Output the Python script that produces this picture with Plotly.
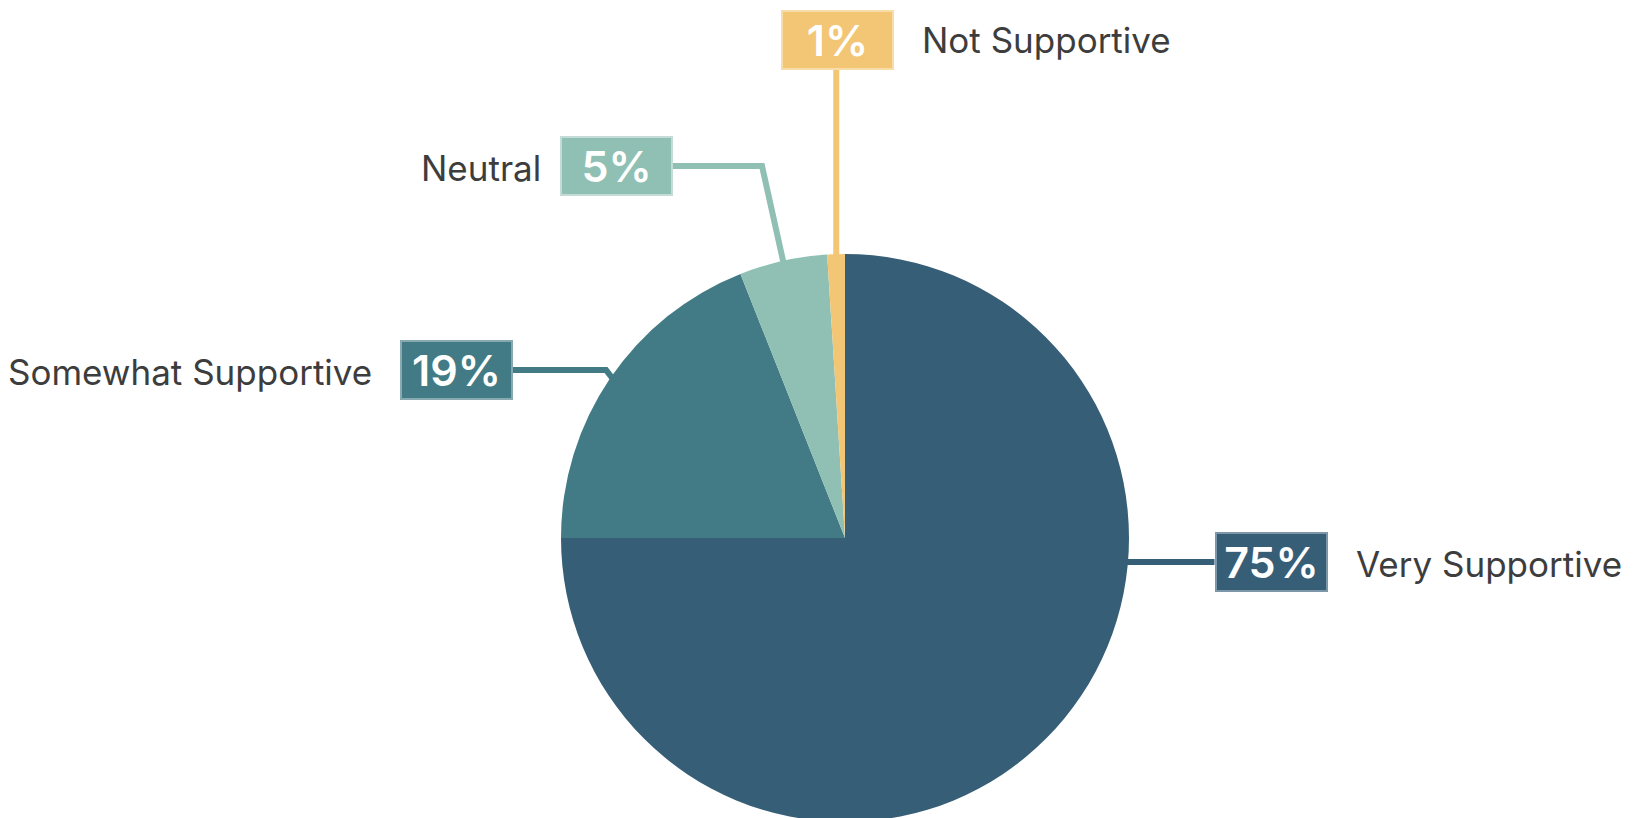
import math
import plotly.graph_objects as go

# ---- data ----
categories = ["Very Supportive", "Somewhat Supportive", "Neutral", "Not Supportive"]
values = [75, 19, 5, 1]
pct_labels = ["75%", "19%", "5%", "1%"]
colors = ["#375e77", "#427b85", "#8fc0b3", "#f2c674"]
border_colors = ["#7d97a8", "#86aab0", "#c3ddd6", "#f8dda9"]

# ---- layout constants (window pixels) ----
W, H = 1636, 818
OFF = 8  # page body margin
CX, CY, R = 845, 538, 284

def px(x):
    return (x - OFF) / W

def py(y):
    return 1 - (y - OFF) / H

# label box centres (px) and category text placement
box_centres = {
    "Very Supportive": (1271, 562),
    "Somewhat Supportive": (456, 370),
    "Neutral": (616, 166),
    "Not Supportive": (837, 40),
}
name_pos = {
    "Very Supportive": (1354, 564, "left"),
    "Somewhat Supportive": (374, 372, "right"),
    "Neutral": (543, 168, "right"),
    "Not Supportive": (920, 40, "left"),
}
BOX_W, BOX_H = 113, 60

fig = go.Figure(go.Pie(
    labels=categories,
    values=values,
    sort=False,
    direction="clockwise",
    rotation=0,
    marker=dict(colors=colors, line=dict(width=0)),
    textinfo="none",
    hoverinfo="label+percent",
    showlegend=False,
    domain=dict(x=[px(CX - R), px(CX + R)], y=[py(CY + R), py(CY - R)]),
))

# mid angles (clockwise from 12 o'clock) computed from the data
total = sum(values)
mid_angle = {}
cum = 0
for c, v in zip(categories, values):
    mid_angle[c] = (cum + v / 2) / total * 2 * math.pi
    cum += v

def edge_point(angle, r):
    return CX + r * math.sin(angle), CY - r * math.cos(angle)

shapes = []
annotations = []
for c, pl, col, bcol in zip(categories, pct_labels, colors, border_colors):
    bx, by = box_centres[c]
    if c == "Very Supportive":
        dy = by - CY
        ax = CX + math.sqrt(R * R - dy * dy) - 6
        path = f"M {px(ax)},{py(by)} L {px(bx - BOX_W / 2)},{py(by)}"
    elif c == "Not Supportive":
        ax, ay = edge_point(mid_angle[c], R - 6)
        path = f"M {px(ax)},{py(by + BOX_H / 2)} L {px(ax)},{py(ay)}"
    elif c == "Neutral":
        ax, ay = edge_point(mid_angle[c], R - 6)
        elbow = 762
        path = (f"M {px(bx + BOX_W / 2)},{py(by)} L {px(elbow)},{py(by)} "
                f"L {px(ax)},{py(ay)}")
    else:  # Somewhat Supportive
        ax, ay = edge_point(mid_angle[c], R - 6)
        elbow = 606
        path = (f"M {px(bx + BOX_W / 2)},{py(by)} L {px(elbow)},{py(by)} "
                f"L {px(ax)},{py(ay)}")
    shapes.append(dict(type="path", path=path, xref="paper", yref="paper",
                       line=dict(color=col, width=6), layer="below"))

    annotations.append(dict(
        x=px(bx), y=py(by), xref="paper", yref="paper",
        text=pl, showarrow=False, xanchor="center", yanchor="middle",
        width=BOX_W - 8, height=BOX_H - 8, borderpad=2, borderwidth=2,
        bgcolor=col, bordercolor=bcol,
        font=dict(family="Inter", size=43, color="#ffffff", weight=600),
    ))
    nx, ny, anchor = name_pos[c]
    annotations.append(dict(
        x=px(nx), y=py(ny), xref="paper", yref="paper",
        text=c, showarrow=False, xanchor=anchor, yanchor="middle",
        font=dict(family="Inter", size=35, color="#3d3d3d"),
    ))

fig.update_layout(
    width=W, height=H,
    margin=dict(l=0, r=0, t=0, b=0),
    paper_bgcolor="#ffffff",
    plot_bgcolor="#ffffff",
    shapes=shapes,
    annotations=annotations,
)

fig.write_html("out.html")
